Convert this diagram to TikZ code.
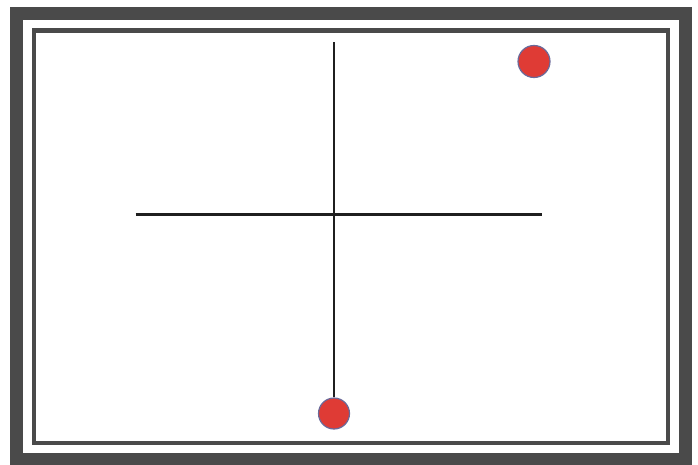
\documentclass[tikz,border=0pt]{standalone}
\begin{document}
\begin{tikzpicture}[x=1pt,y=-1pt,
  framegray/.style={draw=black!71, line width=#1},
  axisline/.style={draw=black!88, line width=2.6pt},
  reddot/.style={circle, fill=dotred, draw=dotrim, line width=1.2pt, minimum size=31pt, inner sep=0pt}]
\definecolor{dotred}{HTML}{DF3B35}
\definecolor{dotrim}{HTML}{6A6A9A}
\useasboundingbox (0,0) rectangle (698,465);
\fill[white] (0,0) rectangle (698,465);
% outer frame
\draw[framegray=13pt] (16.5,13.5) rectangle (685.5,459);
% inner frame
\draw[framegray=4.5pt] (34.2,30.3) rectangle (667.8,442.8);
% dots
\node[reddot] (dotB) at (334,413.5) {};
\node[reddot, minimum size=32pt] (dotT) at (534,61.5) {};
% lines
\coordinate (vtop) at (334,42.5);
\coordinate (hleft) at (135.5,214.5);
\coordinate (hright) at (541.5,214.5);
\draw[axisline] (vtop) -- (dotB.north);
\draw[axisline] (hleft) -- (hright);
\end{tikzpicture}
\end{document}
